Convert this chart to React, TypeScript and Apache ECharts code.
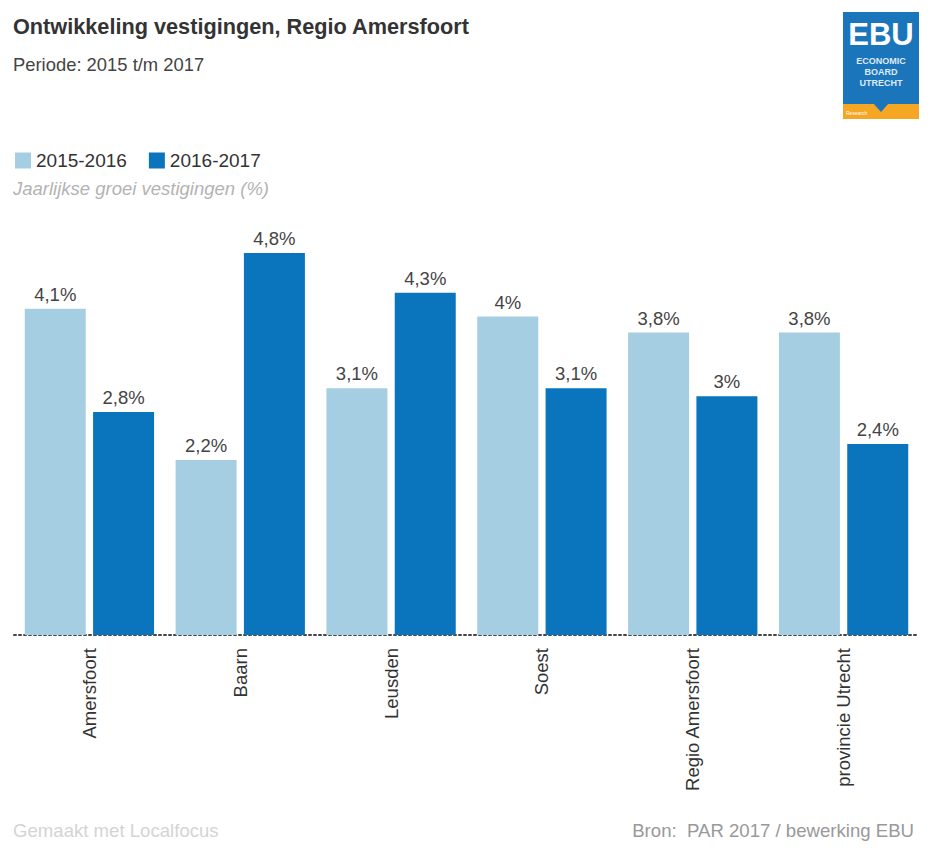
import React, { useEffect, useRef } from "react";
import * as echarts from "echarts";

const categories = ["Amersfoort", "Baarn", "Leusden", "Soest", "Regio Amersfoort", "provincie Utrecht"];
const series2015_2016 = [4.1, 2.2, 3.1, 4.0, 3.8, 3.8];
const series2016_2017 = [2.8, 4.8, 4.3, 3.1, 3.0, 2.4];
const seriesNames = ["2015-2016", "2016-2017"];

const FONT = '"Liberation Sans", Arial, Helvetica, sans-serif';
const LIGHT = "#a6cee3";
const DARK = "#0a75bc";

const fmt = (v: number) => String(v).replace(".", ",") + "%";

export default function App() {
  const ref = useRef<HTMLDivElement>(null);
  useEffect(() => {
    if (!ref.current) return;
    const chart = echarts.init(ref.current, undefined, { renderer: "svg" });
    const label = {
      show: true,
      position: "top" as const,
      distance: 5,
      color: "#444",
      fontSize: 18.5,
      fontFamily: FONT,
      formatter: (p: any) => fmt(p.value),
    };
    chart.setOption({
      animation: false,
      backgroundColor: "#ffffff",
      textStyle: { fontFamily: FONT },
      legend: {
        left: 10,
        top: 146,
        itemWidth: 16,
        itemHeight: 16,
        itemGap: 22,
        icon: "rect",
        textStyle: { fontSize: 19, color: "#333", fontFamily: FONT },
        data: seriesNames,
      },
      grid: { left: 14, right: 13, top: 237, bottom: 218, containLabel: false },
      xAxis: {
        type: "category",
        data: categories,
        axisTick: { show: false },
        axisLine: { show: true, lineStyle: { color: "#444", width: 2, type: [2, 3] } },
        axisLabel: {
          rotate: 90,
          interval: 0,
          margin: 13,
          fontSize: 18.5,
          color: "#333",
          fontFamily: FONT,
        },
      },
      yAxis: {
        type: "value",
        min: 0,
        max: 5,
        show: false,
        splitLine: { show: false },
      },
      series: [
        {
          name: seriesNames[0],
          type: "bar",
          data: series2015_2016,
          barWidth: 61,
          barGap: "12%",
          itemStyle: { color: LIGHT },
          label,
        },
        {
          name: seriesNames[1],
          type: "bar",
          data: series2016_2017,
          barWidth: 61,
          barGap: "12%",
          itemStyle: { color: DARK },
          label,
        },
      ],
      graphic: [
        {
          type: "text",
          left: 13,
          top: 15,
          style: {
            text: "Ontwikkeling vestigingen, Regio Amersfoort",
            fontSize: 21.7,
            fontWeight: "bold",
            fill: "#333",
            fontFamily: FONT,
          },
        },
        {
          type: "text",
          left: 13,
          top: 55,
          style: { text: "Periode: 2015 t/m 2017", fontSize: 18.4, fill: "#444", fontFamily: FONT },
        },
        {
          type: "text",
          left: 13,
          top: 179,
          style: {
            text: "Jaarlijkse groei vestigingen (%)",
            fontSize: 18.5,
            fontStyle: "italic",
            fill: "#b3b3b3",
            fontFamily: FONT,
          },
        },
        {
          type: "text",
          left: 13,
          top: 821,
          style: { text: "Gemaakt met Localfocus", fontSize: 18.6, fill: "#d4d4d4", fontFamily: FONT },
        },
        {
          type: "text",
          right: 18,
          top: 821,
          style: { text: "Bron:  PAR 2017 / bewerking EBU", fontSize: 18.6, fill: "#999", fontFamily: FONT },
        },
        // Logo
        {
          type: "group",
          left: 843,
          top: 12,
          children: [
            { type: "rect", shape: { x: 0, y: 0, width: 76, height: 107 }, style: { fill: "#f5a623" } },
            { type: "rect", shape: { x: 0, y: 0, width: 76, height: 92 }, style: { fill: "#1b75bb" } },
            { type: "polygon", shape: { points: [[30, 91], [46, 91], [38, 100]] }, style: { fill: "#1b75bb" } },
            {
              type: "text",
              x: 38,
              y: 22,
              style: {
                text: "EBU",
                fontSize: 31,
                fontWeight: "bold",
                fill: "#fff",
                align: "center",
                verticalAlign: "middle",
                fontFamily: FONT,
              },
            },
            {
              type: "text",
              x: 38,
              y: 49,
              style: { text: "ECONOMIC", fontSize: 9, fontWeight: "bold", fill: "#dfeaf6", align: "center", verticalAlign: "middle", fontFamily: FONT },
            },
            {
              type: "text",
              x: 38,
              y: 60,
              style: { text: "BOARD", fontSize: 9, fontWeight: "bold", fill: "#dfeaf6", align: "center", verticalAlign: "middle", fontFamily: FONT },
            },
            {
              type: "text",
              x: 38,
              y: 71,
              style: { text: "UTRECHT", fontSize: 9, fontWeight: "bold", fill: "#dfeaf6", align: "center", verticalAlign: "middle", fontFamily: FONT },
            },
            {
              type: "text",
              x: 3,
              y: 101,
              style: { text: "Research", fontSize: 5, fill: "#fff", align: "left", verticalAlign: "middle", fontFamily: FONT },
            },
          ],
        },
      ],
    });
    return () => chart.dispose();
  }, []);
  return (
    <div
      ref={ref}
      style={{ position: "fixed", left: 0, top: 0, width: 932, height: 853, background: "#fff" }}
    />
  );
}
